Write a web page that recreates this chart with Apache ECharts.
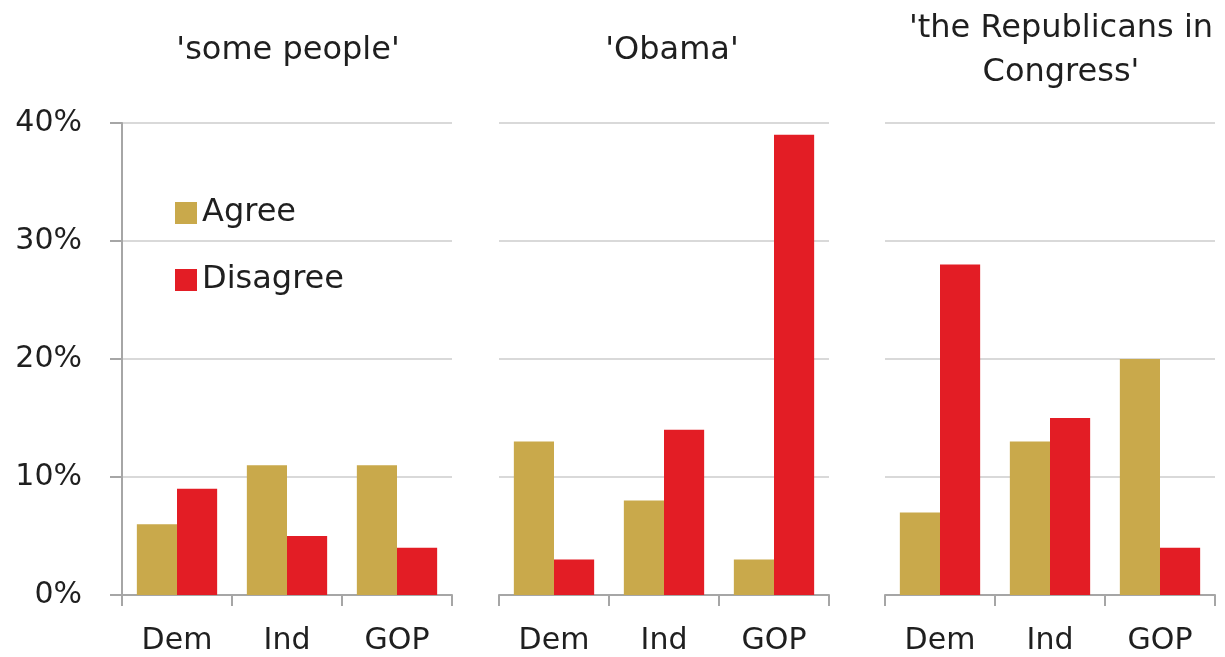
<!DOCTYPE html>
<html>
<head>
<meta charset="utf-8">
<script src="https://cdn.jsdelivr.net/npm/echarts@6/dist/echarts.min.js"></script>
<style>
html,body{margin:0;padding:0;background:#fff;}
#main{width:1225px;height:657px;}
</style>
</head>
<body>
<div id="main"></div>
<script>
const categories = ['Dem', 'Ind', 'GOP'];
const panelTitles = ["'some people'", "'Obama'", "'the Republicans in\nCongress'"];
const agreeSomePeople = [6, 11, 11];
const disagreeSomePeople = [9, 5, 4];
const agreeObama = [13, 8, 3];
const disagreeObama = [3, 14, 39];
const agreeRepublicans = [7, 13, 20];
const disagreeRepublicans = [28, 15, 4];
const yTicks = [0, 10, 20, 30, 40];

const agreeSets = [agreeSomePeople, agreeObama, agreeRepublicans];
const disagreeSets = [disagreeSomePeople, disagreeObama, disagreeRepublicans];

const FONT = 'DejaVu Sans';
const TEXT = '#1f1f1f';
const AGREE = '#C9A94B';
const DISAGREE = '#E31D25';
const lefts = [122, 499, 885];
const W = 330;
const titleX = [288, 672, 1061];
const titleTop = [29, 29, 7];

const grids = lefts.map(l => ({left: l, top: 123, width: W, height: 472}));
const xAxes = lefts.map((l, i) => ({
  type: 'category', gridIndex: i, data: categories,
  axisLine: {lineStyle: {color: '#a6a6a6', width: 2}},
  axisTick: {show: true, length: 11, lineStyle: {color: '#a6a6a6', width: 2}},
  axisLabel: {fontFamily: FONT, fontSize: 30, color: TEXT, margin: 31, lineHeight: 30}
}));
const yAxes = lefts.map((l, i) => ({
  type: 'value', gridIndex: i, min: yTicks[0], max: yTicks[yTicks.length - 1], interval: 10,
  axisLine: {show: i === 0, lineStyle: {color: '#a6a6a6', width: 2}},
  axisTick: {show: i === 0, length: 12, lineStyle: {color: '#a6a6a6', width: 2}},
  axisLabel: {show: i === 0, fontFamily: FONT, fontSize: 30, color: TEXT, margin: 40,
    formatter: v => v + '%'},
  splitLine: {show: true, lineStyle: {color: '#d9d9d9', width: 2}}
}));
const series = [];
for (let i = 0; i < 3; i++) {
  series.push({name: 'Agree', type: 'bar', xAxisIndex: i, yAxisIndex: i, data: agreeSets[i],
    itemStyle: {color: AGREE}, barGap: '0%', barCategoryGap: '27%'});
  series.push({name: 'Disagree', type: 'bar', xAxisIndex: i, yAxisIndex: i, data: disagreeSets[i],
    itemStyle: {color: DISAGREE}, barGap: '0%', barCategoryGap: '27%'});
}
const titles = panelTitles.map((t, i) => ({
  text: t, left: titleX[i], top: titleTop[i], textAlign: 'center', padding: 0,
  textStyle: {fontFamily: FONT, fontSize: 32, fontWeight: 'normal', color: TEXT, lineHeight: 44}
}));

const chart = echarts.init(document.getElementById('main'));
chart.setOption({
  backgroundColor: '#fff',
  animation: false,
  title: titles,
  legend: {
    data: ['Agree', 'Disagree'], orient: 'vertical', left: 175, top: 197, padding: 0,
    itemWidth: 22, itemHeight: 22, itemGap: 35, itemTextGap: 10, icon: 'rect',
    textStyle: {fontFamily: FONT, fontSize: 32, color: TEXT, lineHeight: 32}
  },
  grid: grids,
  xAxis: xAxes,
  yAxis: yAxes,
  series: series
});
</script>
</body>
</html>
